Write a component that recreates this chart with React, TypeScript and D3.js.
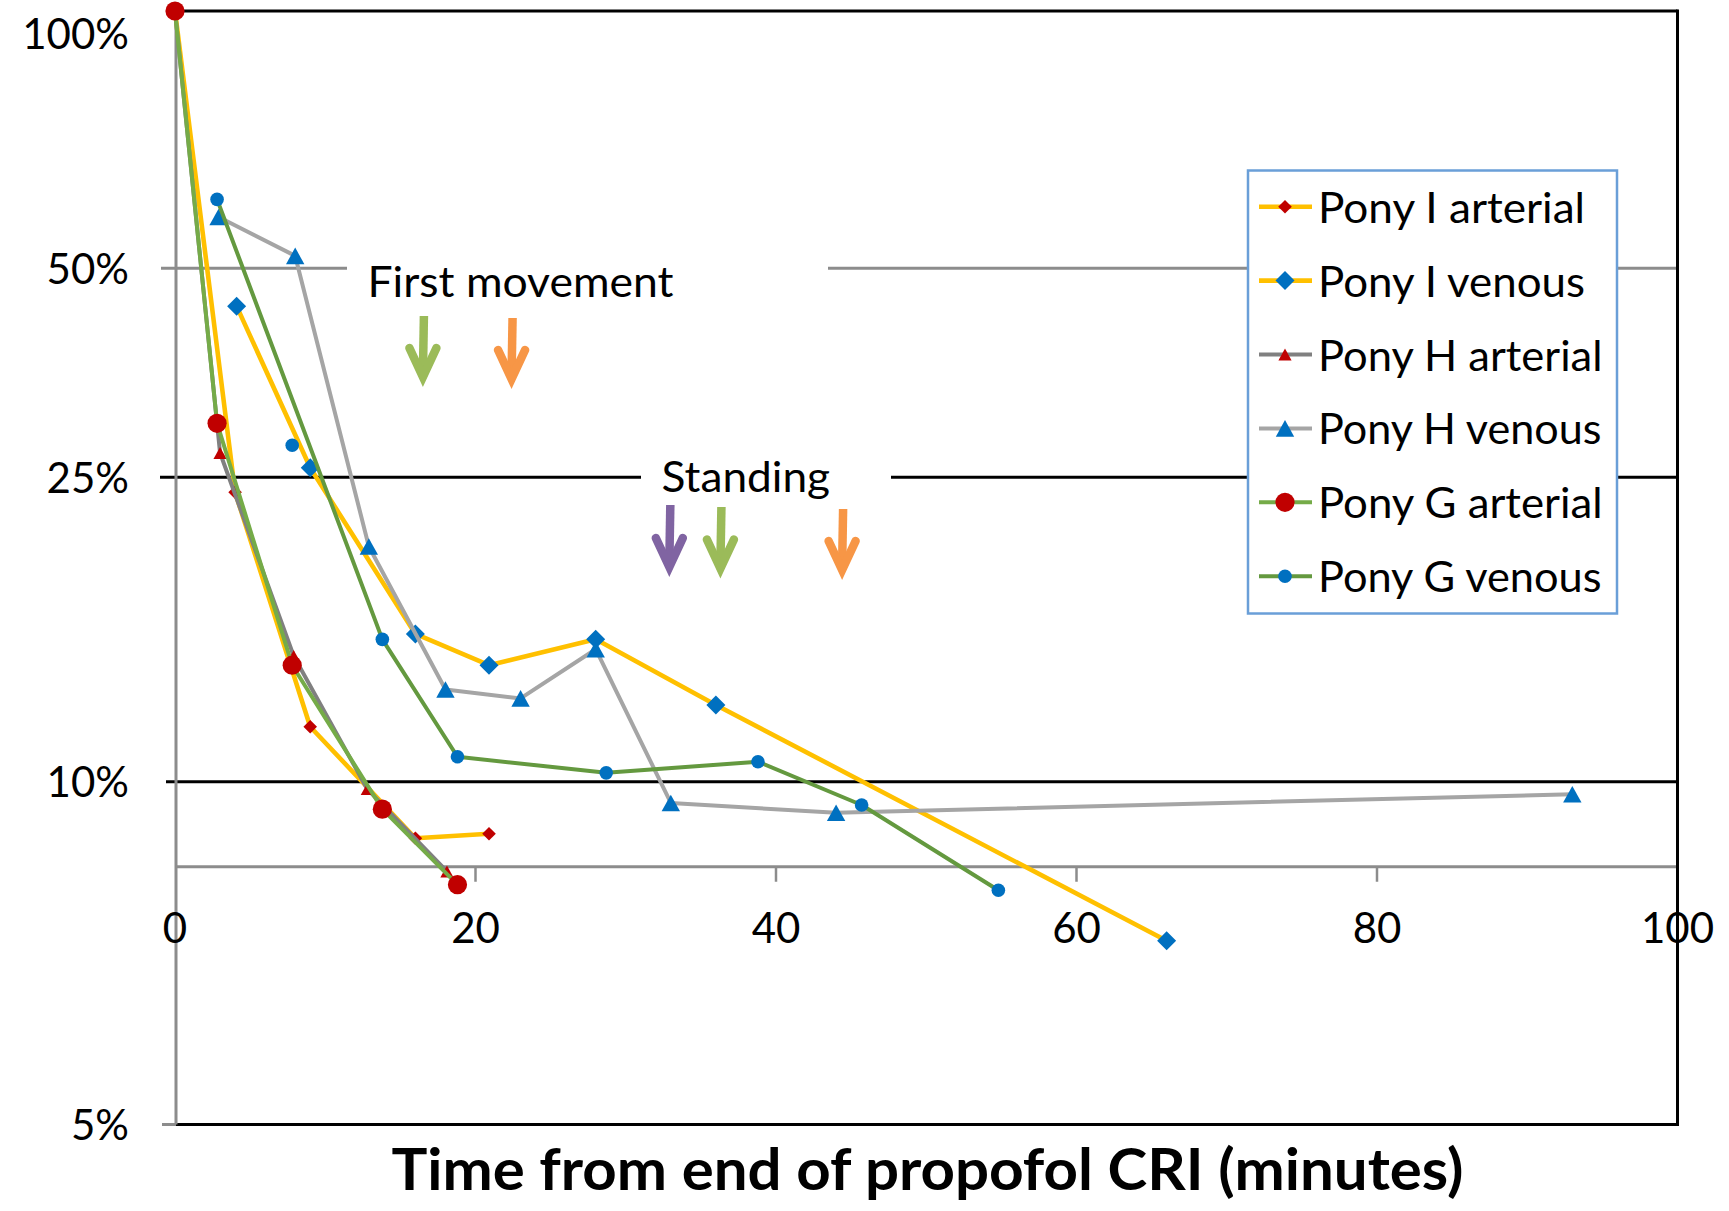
import React from 'react';
import * as d3 from 'd3';

const WIDTH = 1729;
const HEIGHT = 1211;

// ---------------- data (time in minutes, % of initial concentration) ----------------
const seriesNames = [
  'Pony I arterial',
  'Pony I venous',
  'Pony H arterial',
  'Pony H venous',
  'Pony G arterial',
  'Pony G venous',
];

const ponyIArterial: [number, number][] = [[0, 100], [4.0, 23.9], [9.0, 11.8], [16.0, 8.92], [20.9, 9.0]];
const ponyIVenous: [number, number][] = [[4.1, 44.1], [9.0, 25.8], [16.0, 15.6], [20.9, 14.2], [28.0, 15.35], [36.0, 12.6], [66.0, 7.25]];
const ponyHArterial: [number, number][] = [[0, 100], [3.0, 27.1], [7.9, 14.6], [12.8, 9.85], [18.1, 8.34]];
const ponyHVenous: [number, number][] = [[2.9, 57.4], [8.0, 51.7], [12.9, 20.3], [18.0, 13.2], [23.0, 12.85], [28.0, 14.9], [33.0, 9.58], [44.0, 9.39], [93.0, 9.75]];
const ponyGArterial: [number, number][] = [[0, 100], [2.8, 29.9], [7.8, 14.2], [13.8, 9.46], [18.8, 8.12]];
const ponyGVenous: [number, number][] = [[2.8, 60.2], [13.8, 15.35], [18.8, 10.78], [28.7, 10.27], [38.8, 10.62], [45.7, 9.54], [54.8, 8.03]];
// a Pony G venous sample shown as a marker only (not joined by the line)
const ponyGVenousMarkerOnly: [number, number][] = [[7.8, 27.8]];

const seriesData = [ponyIArterial, ponyIVenous, ponyHArterial, ponyHVenous, ponyGArterial, ponyGVenous];

const xTickValues = [0, 20, 40, 60, 80, 100];
const yTickValues = [100, 50, 25, 10, 5];
const yTickLabels = ['100%', '50%', '25%', '10%', '5%'];
const xAxisCrossing = 8.42; // % level where the horizontal axis line sits

// event annotations (minutes)
const firstMovementTimes = [16.5, 22.4];
const firstMovementPonies = ['G', 'I'];
const standingTimes = [32.9, 36.3, 44.4];
const standingPonies = ['H', 'G', 'I'];

// ---------------- styles ----------------
const lineColors = ['#FFC000', '#FFC000', '#808080', '#A5A5A5', '#75AB48', '#64993F'];
const lineWidths = [4.6, 4.6, 4, 4, 4, 4];
const markerShapes = ['diamond', 'diamond', 'triangle', 'triangle', 'circle', 'circle'];
const markerColors = ['#C00000', '#0070C0', '#C00000', '#0070C0', '#C00000', '#0070C0'];
const markerSizes = [6.8, 9.5, 6.6, 9.2, 9.6, 6.8];
const legendTextWidths = [267, 267, 284.5, 283.5, 284.5, 283.5];
const ponyArrowColors: Record<string, string> = { G: '#9BBB59', I: '#F79646', H: '#8064A2' };

const FONT = "Lato, 'Open Sans', 'Noto Sans', sans-serif";

const x = d3.scaleLinear().domain([0, 100]).range([175, 1677.5]);
const y = d3.scaleLog().domain(yTickValues).range([11, 268.3, 477.3, 781.7, 1124.5]);

const lineGen = d3
  .line<[number, number]>()
  .x((d) => x(d[0]))
  .y((d) => y(d[1]));

function Marker({ shape, cx, cy, size, color }: { shape: string; cx: number; cy: number; size: number; color: string }) {
  if (shape === 'circle') return <circle cx={cx} cy={cy} r={size} fill={color} />;
  if (shape === 'diamond')
    return <path d={`M${cx},${cy - size}L${cx + size},${cy}L${cx},${cy + size}L${cx - size},${cy}Z`} fill={color} />;
  const h = size * 0.9;
  return <path d={`M${cx},${cy - h}L${cx + size},${cy + h}L${cx - size},${cy + h}Z`} fill={color} />;
}

function Arrow({ cx, top, tip, color }: { cx: number; top: number; tip: number; color: string }) {
  const vertex = tip - 9;
  const sw = 8.5;
  return (
    <g>
      <line x1={cx + 1} y1={top} x2={cx} y2={vertex - 4} stroke={color} strokeWidth={sw} />
      <path
        d={`M${cx - 13.5},${vertex - 29}L${cx},${vertex}L${cx + 13.5},${vertex - 29}`}
        fill="none"
        stroke={color}
        strokeWidth={sw}
        strokeLinecap="round"
        strokeLinejoin="miter"
      />
    </g>
  );
}

function hSegments(yy: number, x0: number, x1: number, gaps: [number, number][], color: string, w: number, key: string) {
  const pts: [number, number][] = [];
  let start = x0;
  gaps.forEach(([a, b]) => {
    pts.push([start, a]);
    start = b;
  });
  pts.push([start, x1]);
  return pts.map(([a, b], i) => (
    <line key={key + i} x1={a} x2={b} y1={yy} y2={yy} stroke={color} strokeWidth={w} />
  ));
}

export default function App() {
  const left = x(0) + 1;
  const right = x(100);
  const top = y(100);
  const bottom = y(5);
  const axisY = y(xAxisCrossing);

  const legendX = 1248;
  const legendY = 170.5;
  const legendW = 369;
  const legendH = 443;
  const rowY0 = 206.7;
  const rowStep = 73.9;

  return (
    <svg
      width={WIDTH}
      height={HEIGHT}
      viewBox={`0 0 ${WIDTH} ${HEIGHT}`}
      style={{ position: 'absolute', left: 0, top: 0, background: '#fff', display: 'block' }}
      fontFamily={FONT}
    >
      <rect x={0} y={0} width={WIDTH} height={HEIGHT} fill="#fff" />

      {/* horizontal reference lines */}
      {hSegments(top, left, right, [], '#000', 3, 'g100')}
      {hSegments(y(50), 161, right, [[347, 828]], '#8C8C8C', 3, 'g50')}
      {hSegments(y(25), 160, right, [[641, 891]], '#000', 3, 'g25')}
      {hSegments(y(10), 166, right, [], '#000', 3, 'g10')}
      <line x1={162} x2={left} y1={bottom} y2={bottom} stroke="#8C8C8C" strokeWidth={3} />
      <line x1={left} x2={right} y1={bottom} y2={bottom} stroke="#000" strokeWidth={3.2} />

      {/* x axis line with ticks */}
      <line x1={left} x2={right} y1={axisY} y2={axisY} stroke="#8C8C8C" strokeWidth={3} />
      {xTickValues
        .filter((v) => v > 0)
        .map((v) => (
          <line key={'xt' + v} x1={x(v)} x2={x(v)} y1={axisY} y2={axisY + 15} stroke="#8C8C8C" strokeWidth={2.5} />
        ))}

      {/* y axis line and right border */}
      <line x1={left} x2={left} y1={top} y2={bottom} stroke="#8C8C8C" strokeWidth={3} />
      <line x1={right} x2={right} y1={top - 1.5} y2={bottom + 1.5} stroke="#000" strokeWidth={3} />

      {/* y tick labels */}
      {yTickValues.map((v, i) => (
        <text key={'yl' + v} x={129} y={Math.max(y(v), 33.5) + 15.5} textAnchor="end" fontSize={42} fill="#000">
          {yTickLabels[i]}
        </text>
      ))}

      {/* x tick labels */}
      {xTickValues.map((v) => (
        <text key={'xl' + v} x={x(v)} y={943} textAnchor="middle" fontSize={42} fill="#000">
          {v}
        </text>
      ))}

      {/* series */}
      {seriesData.map((data, i) => (
        <g key={'s' + i}>
          <path d={lineGen(data) || ''} fill="none" stroke={lineColors[i]} strokeWidth={lineWidths[i]} strokeLinejoin="round" />
          {data.map((d, j) => (
            <Marker key={j} shape={markerShapes[i]} cx={x(d[0])} cy={y(d[1])} size={markerSizes[i]} color={markerColors[i]} />
          ))}
          {i === 5 &&
            ponyGVenousMarkerOnly.map((d, j) => (
              <Marker key={'mo' + j} shape={markerShapes[i]} cx={x(d[0])} cy={y(d[1])} size={markerSizes[i]} color={markerColors[i]} />
            ))}
        </g>
      ))}

      {/* annotations */}
      <text x={367.5} y={297} fontSize={42} textLength={306} lengthAdjust="spacingAndGlyphs" fill="#000">
        First movement
      </text>
      {firstMovementTimes.map((t, i) => (
        <Arrow key={'fm' + i} cx={x(t)} top={316 + i * 2} tip={386 + i * 2} color={ponyArrowColors[firstMovementPonies[i]]} />
      ))}
      <text x={661.6} y={492} fontSize={42} textLength={168.5} lengthAdjust="spacingAndGlyphs" fill="#000">
        Standing
      </text>
      {standingTimes.map((t, i) => (
        <Arrow key={'st' + i} cx={x(t)} top={505 + i * 2} tip={576 + i * 1.5} color={ponyArrowColors[standingPonies[i]]} />
      ))}

      {/* legend */}
      <rect x={legendX} y={legendY} width={legendW} height={legendH} fill="#fff" stroke="#6A9FD8" strokeWidth={2.5} />
      {seriesNames.map((name, i) => {
        const ry = rowY0 + i * rowStep;
        return (
          <g key={'lg' + i}>
            <line x1={1259} x2={1312} y1={ry} y2={ry} stroke={lineColors[i]} strokeWidth={lineWidths[i]} />
            <Marker shape={markerShapes[i]} cx={1285} cy={ry} size={markerSizes[i]} color={markerColors[i]} />
            <text x={1318} y={ry + 16} fontSize={42} textLength={legendTextWidths[i]} lengthAdjust="spacingAndGlyphs" fill="#000">
              {name}
            </text>
          </g>
        );
      })}

      {/* axis title */}
      <text
        x={927.4}
        y={1190}
        textAnchor="middle"
        fontSize={57}
        fontWeight="bold"
        textLength={1072}
        lengthAdjust="spacingAndGlyphs"
        fill="#000"
      >
        Time from end of propofol CRI (minutes)
      </text>
    </svg>
  );
}
